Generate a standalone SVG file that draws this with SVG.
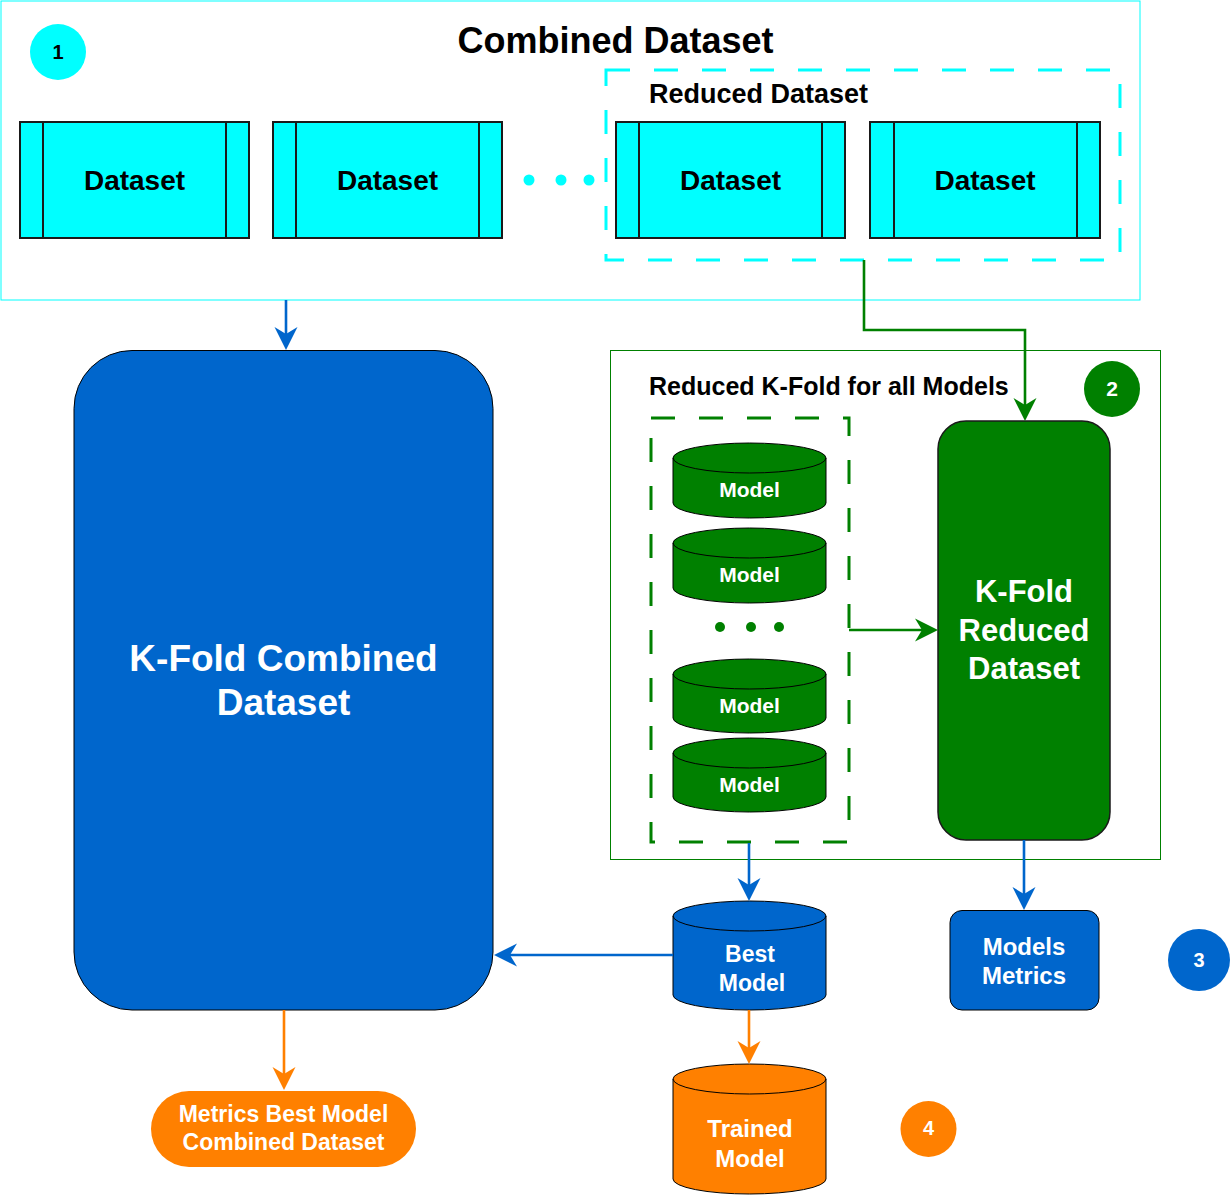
<svg xmlns="http://www.w3.org/2000/svg" width="1231" height="1195" viewBox="0 0 1231 1195">
<style>
text{font-family:"Liberation Sans",Arial,sans-serif;font-weight:bold}
.blk{fill:#000}
.wht{fill:#fff}
.mid{text-anchor:middle}
.proc{fill:#00FFFF;stroke:#1a1a1a;stroke-width:2}
.cyl{stroke:#000;stroke-width:1}
.ln{fill:none;stroke-width:2.6}
</style>
<defs>
<marker id="mb" markerUnits="userSpaceOnUse" viewBox="-24 -12 24 24" markerWidth="24" markerHeight="24" refX="-16" refY="0" orient="auto"><path d="M0,0 L-23,-11.5 L-16,0 L-23,11.5 Z" fill="#0066CC"/></marker>
<marker id="mg" markerUnits="userSpaceOnUse" viewBox="-24 -12 24 24" markerWidth="24" markerHeight="24" refX="-16" refY="0" orient="auto"><path d="M0,0 L-23,-11.5 L-16,0 L-23,11.5 Z" fill="#008000"/></marker>
<marker id="mo" markerUnits="userSpaceOnUse" viewBox="-24 -12 24 24" markerWidth="24" markerHeight="24" refX="-16" refY="0" orient="auto"><path d="M0,0 L-23,-11.5 L-16,0 L-23,11.5 Z" fill="#FF8000"/></marker>
</defs>

<g id="combined-dataset">
<rect x="1" y="1" width="1139" height="299" fill="#fff" stroke="#00FFFF" stroke-width="1"/>
<text x="615.5" y="53" class="blk mid" font-size="36">Combined Dataset</text>
</g>
<g id="badge-1">
<circle cx="58" cy="52" r="28" fill="#00FFFF"/>
<text x="58" y="59" class="blk mid" font-size="20">1</text>
</g>
<g id="dataset-1">
<rect x="20" y="122" width="229" height="116" class="proc"/>
<line x1="43" y1="122" x2="43" y2="238" stroke="#1a1a1a" stroke-width="2"/>
<line x1="226" y1="122" x2="226" y2="238" stroke="#1a1a1a" stroke-width="2"/>
<text x="134.5" y="190" class="blk mid" font-size="28">Dataset</text>
</g>
<g id="dataset-2">
<rect x="273" y="122" width="229" height="116" class="proc"/>
<line x1="296" y1="122" x2="296" y2="238" stroke="#1a1a1a" stroke-width="2"/>
<line x1="479" y1="122" x2="479" y2="238" stroke="#1a1a1a" stroke-width="2"/>
<text x="387.5" y="190" class="blk mid" font-size="28">Dataset</text>
</g>
<g id="dots-cyan" fill="#00FFFF">
<circle cx="529" cy="180" r="5.5"/>
<circle cx="561" cy="180" r="5.5"/>
<circle cx="589" cy="180" r="5.5"/>
</g>
<g id="reduced-dataset">
<rect x="606" y="70" width="514" height="190" fill="none" stroke="#00FFFF" stroke-width="3" stroke-dasharray="24 24"/>
<text x="649" y="103" class="blk" font-size="27">Reduced Dataset</text>
</g>
<g id="dataset-3">
<rect x="616" y="122" width="229" height="116" class="proc"/>
<line x1="639" y1="122" x2="639" y2="238" stroke="#1a1a1a" stroke-width="2"/>
<line x1="822" y1="122" x2="822" y2="238" stroke="#1a1a1a" stroke-width="2"/>
<text x="730.5" y="190" class="blk mid" font-size="28">Dataset</text>
</g>
<g id="dataset-4">
<rect x="870" y="122" width="230" height="116" class="proc"/>
<line x1="894" y1="122" x2="894" y2="238" stroke="#1a1a1a" stroke-width="2"/>
<line x1="1077" y1="122" x2="1077" y2="238" stroke="#1a1a1a" stroke-width="2"/>
<text x="985" y="190" class="blk mid" font-size="28">Dataset</text>
</g>

<g id="reduced-kfold-all-models">
<rect x="610.5" y="350.5" width="550" height="509" fill="none" stroke="#008000" stroke-width="1"/>
<text x="649" y="395" class="blk" font-size="25">Reduced K-Fold for all Models</text>
</g>
<g id="badge-2">
<circle cx="1112" cy="389" r="28" fill="#008000"/>
<text x="1112" y="396" class="wht mid" font-size="21">2</text>
</g>
<g id="models-group">
<rect x="651" y="418" width="198" height="424" fill="none" stroke="#008000" stroke-width="3" stroke-dasharray="24 24"/>
</g>
<g id="model-1">
<path d="M673,458 A76.5,15 0 0 1 826,458 L826,503 A76.5,15 0 0 1 673,503 Z" fill="#008000" class="cyl"/>
<path d="M673,458 A76.5,15 0 0 0 826,458" fill="none" class="cyl"/>
<text x="749.5" y="497" class="wht mid" font-size="21">Model</text>
</g>
<g id="model-2">
<path d="M673,543 A76.5,15 0 0 1 826,543 L826,588 A76.5,15 0 0 1 673,588 Z" fill="#008000" class="cyl"/>
<path d="M673,543 A76.5,15 0 0 0 826,543" fill="none" class="cyl"/>
<text x="749.5" y="582" class="wht mid" font-size="21">Model</text>
</g>
<g id="dots-green" fill="#008000">
<circle cx="720" cy="627" r="5"/>
<circle cx="751" cy="627" r="5"/>
<circle cx="779" cy="627" r="5"/>
</g>
<g id="model-3">
<path d="M673,674 A76.5,15 0 0 1 826,674 L826,718 A76.5,15 0 0 1 673,718 Z" fill="#008000" class="cyl"/>
<path d="M673,674 A76.5,15 0 0 0 826,674" fill="none" class="cyl"/>
<text x="749.5" y="713" class="wht mid" font-size="21">Model</text>
</g>
<g id="model-4">
<path d="M673,753 A76.5,15 0 0 1 826,753 L826,797 A76.5,15 0 0 1 673,797 Z" fill="#008000" class="cyl"/>
<path d="M673,753 A76.5,15 0 0 0 826,753" fill="none" class="cyl"/>
<text x="749.5" y="792" class="wht mid" font-size="21">Model</text>
</g>
<g id="kfold-reduced">
<rect x="938" y="421" width="172" height="419" rx="28" ry="28" fill="#008000" stroke="#1a1a1a" stroke-width="1.5"/>
<text class="wht mid" font-size="31"><tspan x="1024" y="602">K-Fold</tspan><tspan x="1024" y="640.5">Reduced</tspan><tspan x="1024" y="679">Dataset</tspan></text>
</g>

<g id="kfold-combined">
<rect x="74" y="350.5" width="419" height="659.5" rx="58" ry="58" fill="#0066CC" stroke="#000" stroke-width="1"/>
<text class="wht mid" font-size="37"><tspan x="283.5" y="671">K-Fold Combined</tspan><tspan x="283.5" y="715">Dataset</tspan></text>
</g>

<g id="best-model">
<path d="M673,916 A76.5,15 0 0 1 826,916 L826,995 A76.5,15 0 0 1 673,995 Z" fill="#0066CC" class="cyl"/>
<path d="M673,916 A76.5,15 0 0 0 826,916" fill="none" class="cyl"/>
<text class="wht mid" font-size="23"><tspan x="750" y="962">Best</tspan><tspan x="752" y="991">Model</tspan></text>
</g>
<g id="models-metrics">
<rect x="950" y="910.5" width="149" height="99.5" rx="12" ry="12" fill="#0066CC" stroke="#000" stroke-width="1"/>
<text class="wht mid" font-size="24"><tspan x="1024" y="955">Models</tspan><tspan x="1024" y="984">Metrics</tspan></text>
</g>
<g id="badge-3">
<circle cx="1199" cy="960" r="31" fill="#0066CC"/>
<text x="1199" y="967" class="wht mid" font-size="20">3</text>
</g>
<g id="trained-model">
<path d="M673,1079 A76.5,15 0 0 1 826,1079 L826,1179 A76.5,15 0 0 1 673,1179 Z" fill="#FF8000" class="cyl"/>
<path d="M673,1079 A76.5,15 0 0 0 826,1079" fill="none" class="cyl"/>
<text class="wht mid" font-size="24"><tspan x="750" y="1137">Trained</tspan><tspan x="750" y="1167">Model</tspan></text>
</g>
<g id="badge-4">
<circle cx="928.5" cy="1129" r="28" fill="#FF8000"/>
<text x="928.5" y="1135" class="wht mid" font-size="20">4</text>
</g>
<g id="metrics-best-model">
<rect x="151" y="1091" width="265" height="76" rx="38" ry="38" fill="#FF8000"/>
<text class="wht mid" font-size="23"><tspan x="283.5" y="1122">Metrics Best Model</tspan><tspan x="283.5" y="1150">Combined Dataset</tspan></text>
</g>

<g id="connectors">
<path d="M286,300 L286,334" class="ln" stroke="#0066CC" marker-end="url(#mb)"/>
<path d="M864,260 L864,330 L1025,330 L1025,405" class="ln" stroke="#008000" marker-end="url(#mg)"/>
<path d="M849,630 L922,630" class="ln" stroke="#008000" marker-end="url(#mg)"/>
<path d="M749,843 L749,885" class="ln" stroke="#0066CC" marker-end="url(#mb)"/>
<path d="M673,955 L510,955" class="ln" stroke="#0066CC" marker-end="url(#mb)"/>
<path d="M1024,840 L1024,894" class="ln" stroke="#0066CC" marker-end="url(#mb)"/>
<path d="M749,1010 L749,1048" class="ln" stroke="#FF8000" marker-end="url(#mo)"/>
<path d="M284,1010 L284,1074" class="ln" stroke="#FF8000" marker-end="url(#mo)"/>
</g>
</svg>
